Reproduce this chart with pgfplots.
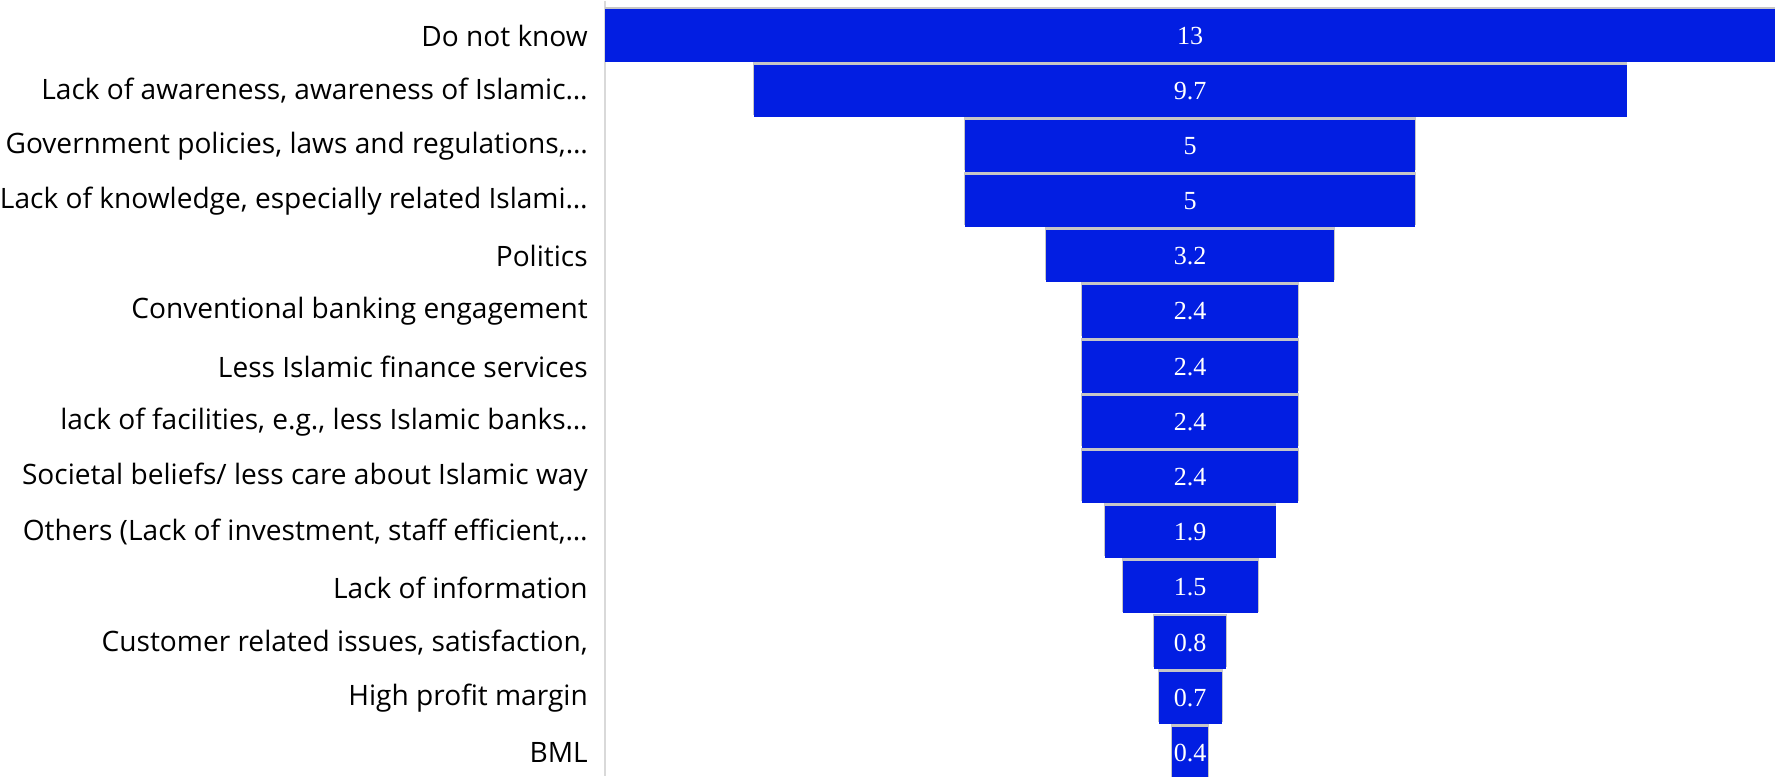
\documentclass[border=0pt]{standalone}
\usepackage{pgfplots}
\pgfplotsset{compat=1.18}
\usepackage{pgfplotstable}
\usepackage{fontspec}
\setmainfont{Open Sans}
\newfontfamily\numfont{Liberation Serif}
\definecolor{barblue}{RGB}{2,30,226}

\pgfplotstableread{
y v
0 13
1 9.7
2 5
3 5
4 3.2
5 2.4
6 2.4
7 2.4
8 2.4
9 1.9
10 1.5
11 0.8
12 0.7
13 0.4
}\funnel

\begin{document}
\begin{tikzpicture}
\begin{axis}[
  scale only axis, width=583pt, height=386.3pt,
  xmin=-6.5, xmax=6.5, ymin=-0.626, ymax=13.42, y dir=reverse,
  axis x line=none, axis y line*=left,
  y axis line style={draw=gray!30, line width=1pt},
  ytick={0,1,2,3,4,5,6,7,8,9,10,11,12,13},
  yticklabels={Do not know,
    {Lack of awareness, awareness of Islamic…},
    {Government policies, laws and regulations,…},
    {Lack of knowledge, especially related Islami…},
    Politics,
    Conventional banking engagement,
    Less Islamic finance services,
    {lack of facilities, e.g., less Islamic banks…},
    Societal beliefs/ less care about Islamic way,
    {Others (Lack of investment, staff efficient,…},
    Lack of information,
    {Customer related issues, satisfaction,},
    High profit margin,
    BML},
  major tick length=0pt,
  yticklabel style={font=\fontsize{14}{16}\selectfont, inner sep=0pt, xshift=-8.5pt},
]
\addplot[draw=none, mark=none, forget plot,
  error bars/.cd, x dir=both, x explicit, error mark=none,
  error bar style={line width=26.5pt, draw=gray!45, yshift=1.2pt}]
  table[x expr=0, y=y, x error expr=\thisrow{v}/2+0.01] {\funnel};
\addplot[draw=none, mark=none, forget plot,
  error bars/.cd, x dir=both, x explicit, error mark=none,
  error bar style={line width=26pt, draw=barblue}]
  table[x expr=0, y=y, x error expr=\thisrow{v}/2] {\funnel};
\addplot[draw=none, mark=none, forget plot,
  point meta=explicit symbolic,
  nodes near coords={\pgfplotspointmeta},
  every node near coord/.style={font=\numfont\fontsize{13}{15}\selectfont, text=white, anchor=center}]
  table[x expr=0, y=y, meta=v] {\funnel};
\end{axis}
\end{tikzpicture}
\end{document}
